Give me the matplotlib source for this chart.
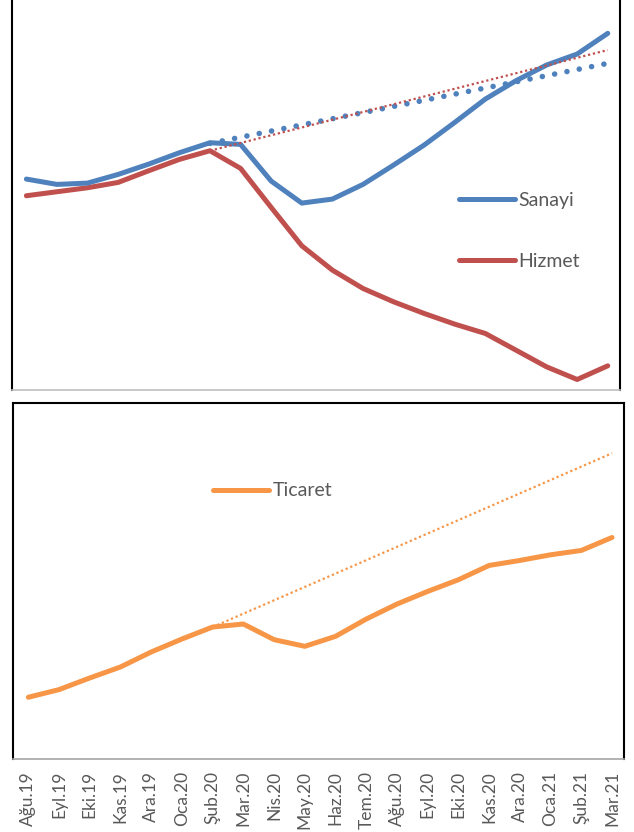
import matplotlib.pyplot as plt
from matplotlib.lines import Line2D
import numpy as np

plt.rcParams['font.family'] = ['Lato', 'DejaVu Sans']

# Months (Ağustos 2019 - Mart 2021)
months = ["Ağu.19", "Eyl.19", "Eki.19", "Kas.19", "Ara.19", "Oca.20", "Şub.20",
          "Mar.20", "Nis.20", "May.20", "Haz.20", "Tem.20", "Ağu.20", "Eyl.20",
          "Eki.20", "Kas.20", "Ara.20", "Oca.21", "Şub.21", "Mar.21"]

# Series values (no axis scale shown, read as relative levels)
sanayi = [63.1, 61.5, 61.9, 64.5, 67.6, 71.0, 74.0, 73.5, 62.5, 55.9,
          57.1, 61.5, 67.3, 73.3, 80.1, 87.1, 92.6, 97.3, 100.6, 106.8]
hizmet = [58.1, 59.3, 60.5, 62.1, 65.6, 69.0, 71.6, 66.3, 54.6, 43.1,
          35.8, 30.3, 26.3, 22.8, 19.6, 16.8, 11.8, 6.8, 3.0, 7.1]
ticaret = [18.5, 20.8, 24.3, 27.6, 32.1, 36.0, 39.6, 40.5, 35.8, 33.8,
           36.8, 42.0, 46.5, 50.3, 53.8, 58.1, 59.6, 61.3, 62.6, 66.5]

# Pre-pandemic trend lines (from Şub.20 to Mar.21)
trend_idx = [6, 19]
sanayi_trend = [73.8, 97.8]
hizmet_trend = [71.6, 101.8]
ticaret_trend = [39.6, 91.8]

BLUE = "#4F81BD"
RED = "#C0504D"
ORANGE = "#F79646"
TEXT = "#595959"

W, H = 634, 832
fig = plt.figure(figsize=(W / 100, H / 100), dpi=100)

x = np.arange(len(months))
line_kw = dict(lw=3.6, solid_capstyle="round", solid_joinstyle="round")

# ---- top panel: Sanayi & Hizmet ----
ax1 = fig.add_axes([12 / W, 1 - 389.5 / H, (620 - 12) / W, 389.5 / H])
l_hiz, = ax1.plot(x, hizmet, color=RED, **line_kw)
l_san, = ax1.plot(x, sanayi, color=BLUE, **line_kw)
ax1.plot(trend_idx, sanayi_trend, color=BLUE, lw=4.0,
         linestyle=(0, (0.01, 2.25)), dash_capstyle="round")
ax1.plot(trend_idx, hizmet_trend, color=RED, lw=1.6,
         linestyle=(0, (1, 1.25)))
ax1.set_xlim(-0.47, 19.4)
ax1.set_ylim(0, 116.8)
ax1.set_xticks([])
ax1.set_yticks([])
ax1.spines["top"].set_visible(False)
for s in ("left", "right"):
    ax1.spines[s].set_color("black")
    ax1.spines[s].set_linewidth(1.5)
ax1.spines["bottom"].set_color("#BFBFBF")
ax1.spines["bottom"].set_linewidth(1.2)

h_san = Line2D([], [], color=BLUE, lw=3.6, solid_capstyle="round")
h_hiz = Line2D([], [], color=RED, lw=3.6, solid_capstyle="round")
leg1 = fig.legend([h_san, h_hiz], ["Sanayi", "Hizmet"], loc="center left",
                  bbox_to_anchor=(459 / W, 1 - 230.7 / H), frameon=False,
                  fontsize=14, handlelength=2.9, handletextpad=0.15,
                  labelspacing=2.27, borderpad=0, borderaxespad=0)
for t in leg1.get_texts():
    t.set_color(TEXT)

# ---- bottom panel: Ticaret ----
ax2 = fig.add_axes([13 / W, 1 - 758.5 / H, (624 - 13) / W, (758.5 - 403) / H])
ax2.plot(x, ticaret, color=ORANGE, **line_kw)
ax2.plot(trend_idx, ticaret_trend, color=ORANGE, lw=1.6,
         linestyle=(0, (1, 1.25)))
ax2.set_xlim(-0.5, 19.39)
ax2.set_ylim(0.1, 106.9)
ax2.set_yticks([])
ax2.set_xticks(x)
ax2.set_xticklabels(months, rotation=90, fontsize=12.5, color=TEXT)
ax2.tick_params(axis="x", length=0, pad=9)
for s in ("left", "right", "top"):
    ax2.spines[s].set_color("black")
    ax2.spines[s].set_linewidth(1.5)
ax2.spines["bottom"].set_color("#A6A6A6")
ax2.spines["bottom"].set_linewidth(1.2)

h_tic = Line2D([], [], color=ORANGE, lw=3.6, solid_capstyle="round")
leg2 = fig.legend([h_tic], ["Ticaret"], loc="center left",
                  bbox_to_anchor=(213 / W, 1 - 491 / H), frameon=False,
                  fontsize=14, handlelength=2.9, handletextpad=0.15,
                  borderpad=0, borderaxespad=0)
for t in leg2.get_texts():
    t.set_color(TEXT)

fig.savefig("out.png", dpi=100)
